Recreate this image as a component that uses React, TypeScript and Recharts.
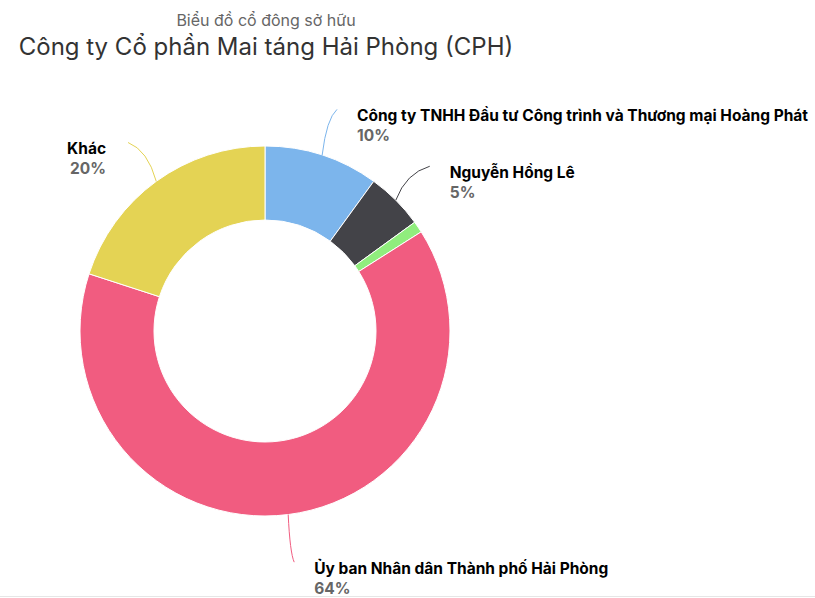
import React from 'react';
import { PieChart, Pie, Cell } from 'recharts';

const holders = [
  'Công ty TNHH Đầu tư Công trình và Thương mại Hoàng Phát',
  'Nguyễn Hồng Lê',
  'Cổ đông lớn khác',
  'Ủy ban Nhân dân Thành phố Hải Phòng',
  'Khác',
];
const shares = [10, 5, 1, 64, 20];
const sliceColors = ['#7cb5ec', '#434348', '#90ed7d', '#f15c80', '#e4d354'];

const data = holders.map((name, i) => ({ name, value: shares[i] }));

const RADIAN = Math.PI / 180;

const renderLabel = (props: any) => {
  const { cx, cy, midAngle, outerRadius, value, name, index } = props;
  if (value < 2) return null;
  const cos = Math.cos(-midAngle * RADIAN);
  const sin = Math.sin(-midAngle * RADIAN);
  const sx = cx + outerRadius * cos;
  const sy = cy + outerRadius * sin;
  const ex = cx + (outerRadius + 48) * cos;
  const ey = cy + (outerRadius + 48) * sin;
  const qx = sx + (ex - sx) * 0.3;
  const qy = ey + (sy - ey) * 0.2;
  const right = ex >= cx;
  const tx = right ? ex + 20 : ex - 22;
  const anchor = right ? 'start' : 'end';
  return (
    <g>
      <path d={`M${sx},${sy} Q${qx},${qy} ${ex},${ey}`} stroke={sliceColors[index]} fill="none" strokeWidth={1} />
      <text x={tx} y={ey + 12} textAnchor={anchor} fill="#000" fontSize={15.5} fontWeight={700} fontFamily="Inter">
        {name}
      </text>
      <text x={tx} y={ey + 32} textAnchor={anchor} fill="#666666" fontSize={15.5} fontWeight={700} fontFamily="Inter">
        {`${value}%`}
      </text>
    </g>
  );
};

export default function App() {
  return (
    <div style={{ position: 'absolute', left: 0, top: 0, width: 815, height: 598, background: '#fff', fontFamily: 'Inter' }}>
      <div style={{ position: 'absolute', left: 0, width: 532, top: 10, textAlign: 'center', fontSize: 16, color: '#666666' }}>
        Biểu đồ cổ đông sở hữu
      </div>
      <div style={{ position: 'absolute', left: 0, width: 532, top: 32, textAlign: 'center', fontSize: 24, color: '#333333' }}>
        Công ty Cổ phần Mai táng Hải Phòng (CPH)
      </div>
      <PieChart width={815} height={598} margin={{ top: 0, right: 0, bottom: 0, left: 0 }}>
        <Pie
          data={data}
          dataKey="value"
          nameKey="name"
          cx={265}
          cy={331}
          innerRadius={111}
          outerRadius={185}
          startAngle={90}
          endAngle={-270}
          stroke="#ffffff"
          strokeWidth={1}
          label={renderLabel}
          labelLine={false}
          isAnimationActive={false}
        >
          {data.map((d, i) => (
            <Cell key={d.name} fill={sliceColors[i]} />
          ))}
        </Pie>
      </PieChart>
      <div style={{ position: 'absolute', left: 0, top: 596, width: 815, height: 1, background: '#e6e6e6' }} />
    </div>
  );
}
